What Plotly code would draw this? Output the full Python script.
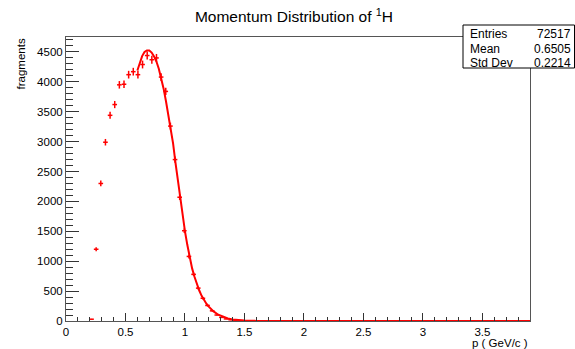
import numpy as np
import plotly.graph_objects as go

# ---- data ----
bin_width = 0.039
bin_index = list(range(5, 40))
counts = [30, 1200, 2300, 2990, 3440, 3620, 3950, 3960, 4120, 4170,
          4120, 4290, 4440, 4370, 4400, 4080, 3840, 3260, 2700, 2070,
          1510, 1080, 780, 550, 380, 260, 170, 100, 60, 35,
          20, 12, 6, 3, 1]

fit_x = [0.60, 0.62, 0.64, 0.66, 0.68, 0.70, 0.72, 0.74, 0.76, 0.78,
         0.80, 0.82, 0.84, 0.86, 0.88, 0.90, 0.92, 0.94, 0.96, 0.98,
         1.00, 1.02, 1.04, 1.06, 1.08, 1.10, 1.12, 1.14, 1.16, 1.18,
         1.20, 1.24, 1.28, 1.32, 1.36, 1.40, 1.45, 1.50, 1.60, 1.70, 3.90]
fit_y = [4190, 4320, 4430, 4500, 4525, 4525, 4490, 4425, 4340, 4220,
         4070, 3890, 3680, 3460, 3230, 2970, 2650, 2340, 2050, 1770,
         1500, 1270, 1060, 880, 740, 610, 510, 420, 350, 290,
         240, 160, 105, 68, 42, 26, 14, 7, 2, 0, 0]

stats_labels = ["Entries", "Mean", "Std Dev"]
stats_values = ["72517", "0.6505", "0.2214"]

x_range = [0, 3.9]
y_range = [0, 4750]

centers = [(i + 0.5) * bin_width for i in bin_index]
errs = [float(np.sqrt(c)) for c in counts]

FONT = "Liberation Sans, Arial, Helvetica, sans-serif"
RED = "#ff0000"

fig = go.Figure()
fig.add_trace(go.Scatter(
    x=fit_x, y=fit_y, mode="lines",
    line=dict(color=RED, width=2), hoverinfo="skip", showlegend=False))
fig.add_trace(go.Scatter(
    x=centers, y=counts, mode="markers",
    marker=dict(size=1, color=RED, opacity=0),
    error_x=dict(type="constant", value=bin_width / 2, color=RED,
                 thickness=1.5, width=0),
    error_y=dict(type="data", array=errs, color=RED, thickness=1.5, width=0),
    showlegend=False))

W, H = 575, 349
ml, mr, mt, mb = 66, 45, 37, 28
pw = W - ml - mr
ph = H - mt - mb

fig.update_layout(
    width=W, height=H,
    margin=dict(l=ml, r=mr, t=mt, b=mb, pad=0),
    paper_bgcolor="white", plot_bgcolor="white",
    font=dict(family=FONT, color="#000000", size=11),
    title=dict(text="Momentum Distribution of <sup>1</sup>H",
               x=294 / W, xanchor="center", xref="container",
               y=1 - 17 / H, yanchor="middle", yref="container",
               font=dict(size=15.5, family=FONT, color="#000000")),
    xaxis=dict(range=x_range, showgrid=False, zeroline=False,
               showline=True, linecolor="#555555", linewidth=1, mirror=True,
               ticks="inside", ticklen=8, tickwidth=1, tickcolor="#333333",
               dtick=0.5, tick0=0,
               minor=dict(ticks="inside", ticklen=4, dtick=0.1,
                          tickcolor="#333333", tickwidth=1, showgrid=False),
               tickfont=dict(size=11.5, family=FONT)),
    yaxis=dict(range=y_range, showgrid=False, zeroline=False,
               showline=True, linecolor="#555555", linewidth=1, mirror=True,
               ticks="inside", ticklen=13, tickwidth=1, tickcolor="#333333",
               dtick=500, tick0=0,
               minor=dict(ticks="inside", ticklen=7, dtick=100,
                          tickcolor="#333333", tickwidth=1, showgrid=False),
               tickfont=dict(size=11.5, family=FONT)),
)

# axis titles (ROOT style: at the axis ends)
fig.add_annotation(text="fragments", textangle=-90, showarrow=False,
                   xref="paper", yref="paper",
                   x=(20 - ml) / pw, y=1.0, xanchor="center", yanchor="top",
                   font=dict(size=11.5, family=FONT))
fig.add_annotation(text="p ( GeV/c )", showarrow=False,
                   xref="paper", yref="paper",
                   x=1.0, y=-(342.5 - (H - mb)) / ph, xanchor="right",
                   yanchor="middle", font=dict(size=11.5, family=FONT))

# stats box
bx0, bx1, by0, by1 = 463, 574.5, 25, 68
fig.add_shape(type="rect", xref="paper", yref="paper",
              x0=(bx0 - ml) / pw, x1=(bx1 - ml) / pw,
              y0=1 - (by1 - mt) / ph, y1=1 - (by0 - mt) / ph,
              line=dict(color="#000000", width=1), fillcolor="white",
              layer="above")
row_y = [33.5, 48.5, 62.5]
for lab, val, ry in zip(stats_labels, stats_values, row_y):
    yy = 1 - (ry - mt) / ph
    fig.add_annotation(text=lab, showarrow=False, xref="paper", yref="paper",
                       x=(468 - ml) / pw, y=yy, xanchor="left",
                       yanchor="middle", font=dict(size=12, family=FONT))
    fig.add_annotation(text=val, showarrow=False, xref="paper", yref="paper",
                       x=(572.5 - ml) / pw, y=yy, xanchor="right",
                       yanchor="middle", font=dict(size=12, family=FONT))

fig.write_html("out.html")
